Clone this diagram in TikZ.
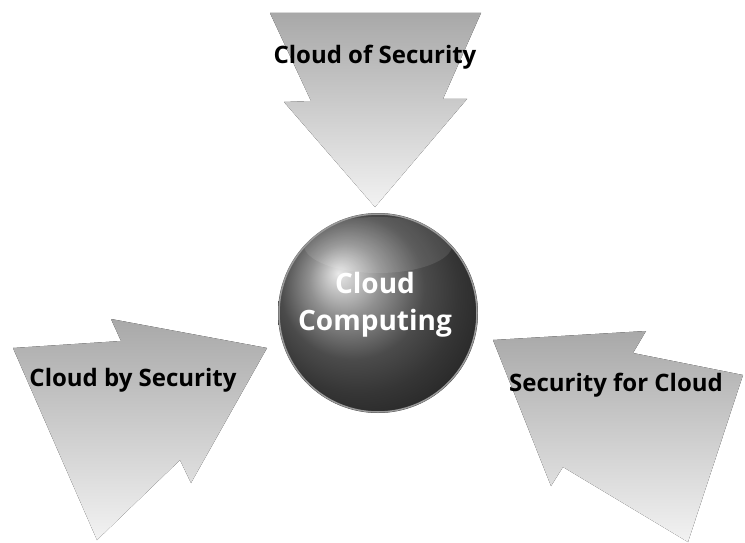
\documentclass[tikz,border=0pt]{standalone}
\usepackage{fontspec}
\setmainfont{Open Sans}
\usetikzlibrary{calc}
\tikzset{
	arrowshape/.style={top color=black!34, bottom color=black!5, draw=none},
	arrowlabel/.style={font=\bfseries\fontsize{24}{28}\selectfont, text=black, inner sep=0pt},
	spherelabel/.style={font=\bfseries\fontsize{28}{37}\selectfont, text=white, align=center, inner sep=0pt}
}

\begin{document}
\begin{tikzpicture}[x=1pt, y=-1pt]
			%%%%% START %%%%%
			
			\useasboundingbox[fill=white] (0, 0) rectangle (745, 543);
			
			% top arrow
			\fill[arrowshape] (270, 13) -- (481, 13) -- (443, 99) -- (467, 99) -- (375, 207) -- (284, 102) -- (311, 101) -- cycle;
			
			% left arrow
			\fill[arrowshape] (13, 348) -- (121, 341) -- (111, 319) -- (267, 348) -- (191, 483) -- (180, 460) -- (97, 540) -- cycle;
			
			% right arrow
			\fill[arrowshape] (493, 340) -- (646, 331) -- (633, 353) -- (743, 375) -- (688, 542) -- (563, 467) -- (551, 486) -- cycle;
			
			% sphere
			\shade[ball color=black!58] (378, 313) circle (100);
			\fill[white, opacity=0.1] (378, 245) ellipse (74 and 28);
			\draw[black!40, line width=1.5pt] (378, 313) circle (99);
			\node[circle, minimum size=200pt] (core) at (378, 313) {};
			
			\node[arrowlabel] (cloudof) at (375, 57) {Cloud of Security};
			\node[arrowlabel] (cloudby) at (133, 380) {Cloud by Security};
			\node[arrowlabel] (securityfor) at (616, 385) {Security for Cloud};
			\node[spherelabel] (corelabel) at (375, 305) {Cloud\\Computing};
			
			%%%%% END %%%%%
\end{tikzpicture}
\end{document}
